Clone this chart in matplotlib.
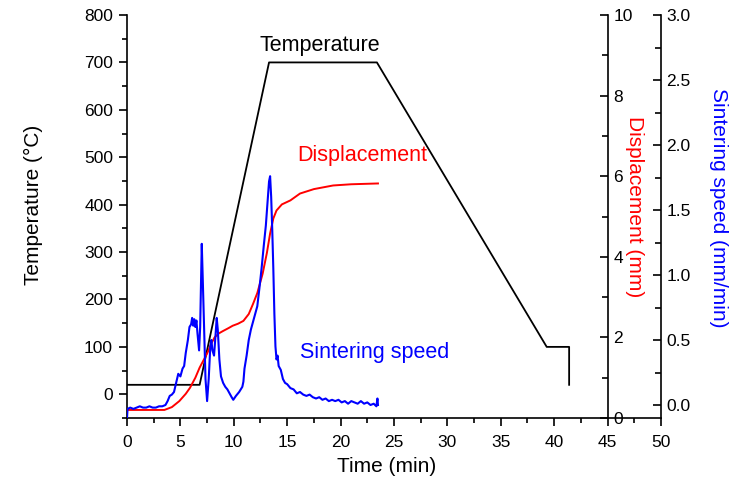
import matplotlib
matplotlib.use('Agg')
import matplotlib.pyplot as plt
from matplotlib.ticker import MultipleLocator

plt.rcParams['font.family'] = ['Liberation Sans', 'DejaVu Sans']

# temperature program (min, degC)
temp_t = [0.0, 6.8, 13.3, 23.4, 39.3, 41.4, 41.4]
temp_v = [20, 20, 700, 700, 100, 100, 20]

# displacement (min, mm)
disp_t = [0.0, 0.3, 3.5, 4.2, 4.9, 5.5, 5.9, 6.4, 6.8, 7.2, 7.5, 7.9, 8.2, 8.6, 9.0,
          9.5, 9.9, 10.4, 10.9, 11.4, 11.8, 12.2, 12.7, 13.1, 13.4, 13.7, 14.0,
          14.5, 15.3, 16.2, 17.5, 19.3, 21.0, 23.5]
disp_v = [0.2, 0.2, 0.2, 0.27, 0.42, 0.6, 0.75, 1.0, 1.25, 1.45, 1.6, 1.85, 2.0, 2.1, 2.16,
          2.23, 2.29, 2.34, 2.41, 2.58, 2.83, 3.1, 3.58, 4.1, 4.58, 4.95, 5.15,
          5.3, 5.4, 5.57, 5.68, 5.77, 5.8, 5.82]

# sintering speed (min, mm/min)
speed_t = [0.0, 0.05, 0.3, 0.6, 0.9, 1.2, 1.5, 1.8, 2.1, 2.4, 2.7, 3.0, 3.3, 3.6, 3.8,
           4.0, 4.2, 4.4, 4.6, 4.8, 5.0, 5.2, 5.35, 5.5, 5.7, 5.85, 6.0, 6.1, 6.2, 6.3,
           6.4, 6.5, 6.6, 6.75, 6.85, 7.0, 7.1, 7.2, 7.35, 7.5, 7.65, 7.8, 7.9, 8.0,
           8.15, 8.3, 8.4, 8.5, 8.65, 8.8, 9.0, 9.2, 9.4, 9.6, 9.8, 9.95, 10.2, 10.5,
           10.8, 10.9, 11.0, 11.2, 11.4, 11.6, 11.8, 12.0, 12.2, 12.4, 12.6, 12.8,
           13.0, 13.15, 13.3, 13.4, 13.5, 13.6, 13.7, 13.8, 13.9, 14.0, 14.1, 14.2,
           14.4, 14.6, 14.8, 15.0, 15.3, 15.6, 15.9, 16.2, 16.5, 16.8, 17.1, 17.4,
           17.7, 18.0, 18.3, 18.6, 18.9, 19.2, 19.5, 19.8, 20.1, 20.4, 20.7, 21.0,
           21.3, 21.6, 21.9, 22.2, 22.5, 22.8, 23.1, 23.35, 23.45, 23.5]
speed_v = [-0.10, -0.03, -0.02, -0.03, -0.02, -0.01, -0.02, -0.02, -0.01, -0.02, -0.02,
           -0.01, -0.01, 0.00, 0.03, 0.07, 0.08, 0.10, 0.17, 0.24, 0.22, 0.28, 0.30,
           0.40, 0.50, 0.60, 0.62, 0.67, 0.61, 0.66, 0.60, 0.65, 0.55, 0.42, 0.60, 1.24,
           0.95, 0.65, 0.20, 0.03, 0.20, 0.45, 0.50, 0.42, 0.38, 0.55, 0.67, 0.58, 0.35,
           0.22, 0.17, 0.14, 0.12, 0.09, 0.06, 0.04, 0.07, 0.10, 0.14, 0.18, 0.28, 0.38,
           0.50, 0.58, 0.64, 0.70, 0.76, 0.90, 1.05, 1.22, 1.38, 1.55, 1.72, 1.76, 1.60,
           1.35, 1.05, 0.70, 0.45, 0.35, 0.38, 0.30, 0.27, 0.20, 0.17, 0.16, 0.13, 0.12,
           0.09, 0.10, 0.08, 0.07, 0.08, 0.06, 0.05, 0.06, 0.04, 0.05, 0.03, 0.04, 0.03,
           0.04, 0.02, 0.03, 0.01, 0.03, 0.02, 0.01, 0.03, 0.01, 0.02, 0.00, 0.01, -0.01,
           0.05, 0.00]

fig = plt.figure(figsize=(7.41, 4.92), dpi=100)
ax = fig.add_axes([0.1714, 0.1504, 0.7206, 0.8191])
ax2 = ax.twinx()
ax3 = ax.twinx()

ax.plot(temp_t, temp_v, color='black', lw=1.3)
ax2.plot(disp_t, disp_v, color='red', lw=1.4)
ax3.plot(speed_t, speed_v, color='blue', lw=1.5)

ax.set_xlim(0, 50)
ax.set_ylim(-50, 800)
ax2.set_ylim(0, 10)
ax3.set_ylim(-0.1, 3.0)

ax.xaxis.set_major_locator(MultipleLocator(5))
ax.xaxis.set_minor_locator(MultipleLocator(2.5))
ax.yaxis.set_major_locator(MultipleLocator(100))
ax.yaxis.set_minor_locator(MultipleLocator(50))
ax2.yaxis.set_major_locator(MultipleLocator(2))
ax2.yaxis.set_minor_locator(MultipleLocator(1))
ax3.yaxis.set_major_locator(MultipleLocator(0.5))
ax3.yaxis.set_minor_locator(MultipleLocator(0.25))
ax3.yaxis.set_major_formatter(plt.FormatStrFormatter('%.1f'))

for s in ['top', 'right']:
    ax.spines[s].set_visible(False)
for a in (ax2, ax3):
    for s in ['top', 'left', 'bottom']:
        a.spines[s].set_visible(False)
ax2.spines['right'].set_position(('axes', 0.9))
ax2.spines['right'].set_bounds(0, 10)

for sp in list(ax.spines.values()) + [ax2.spines['right'], ax3.spines['right']]:
    sp.set_linewidth(1.2)

ax.tick_params(axis='both', which='major', direction='out', length=6, width=1.2,
               labelsize=12.5, pad=4)
ax.tick_params(axis='both', which='minor', direction='out', length=3.5, width=1.2)
ax.tick_params(axis='x', which='major', pad=6)
for a in (ax2, ax3):
    a.tick_params(axis='y', which='major', direction='in', length=6, width=1.2,
                  labelsize=12.5, pad=4)
    a.tick_params(axis='y', which='minor', direction='in', length=4, width=1.2)

ax.set_xlabel('Time (min)', fontsize=15)
ax.xaxis.set_label_coords(0.487, -0.097)
ax.set_ylabel('Temperature (°C)', fontsize=15)
ax.yaxis.set_label_coords(-0.157, 0.53)
ax2.set_ylabel('Displacement (mm)', fontsize=15, color='red', rotation=270,
               va='center')
ax2.yaxis.set_label_coords(0.951, 0.524)
ax3.set_ylabel('Sintering speed (mm/min)', fontsize=15, color='blue', rotation=270,
               va='center')
ax3.yaxis.set_label_coords(1.107, 0.521)

ax.text(18.1, 736, 'Temperature', fontsize=15.5, color='black', ha='center', va='center')
ax.text(22.0, 504, 'Displacement', fontsize=15.5, color='red', ha='center', va='center')
ax.text(23.2, 88, 'Sintering speed', fontsize=15.5, color='blue', ha='center', va='center')

fig.savefig('out.png', dpi=100)
